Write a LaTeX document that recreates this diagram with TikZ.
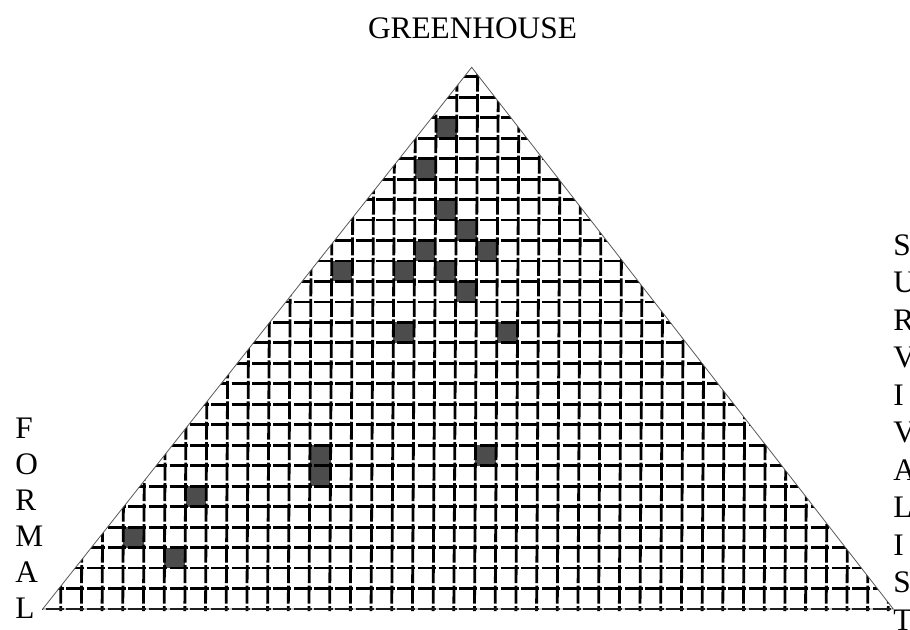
\documentclass[tikz,border=0pt]{standalone}
\usepackage{fontspec}
\setmainfont{Liberation Serif}
\begin{document}
\begin{tikzpicture}[x=0.75pt,y=-0.75pt,
  lbl/.style={inner sep=0pt, font=\fontsize{23.5}{28}\selectfont},
  hline/.style={line width=2.1pt, black, dash pattern=on 13.64pt off 1.875pt, dash phase=11.385pt},
  vline/.style={line width=2.1pt, black, dash pattern=on 13.48pt off 1.875pt, dash phase=9.73pt},
  edge/.style={line width=0.6pt, black!65},
  cellfill/.style={fill=black!70}]
\fill[white] (0,0) rectangle (910,629);
\useasboundingbox (0,0) rectangle (910,629);
\coordinate (apex) at (471.7,67.3);
\coordinate (bl) at (42.7,609);
\coordinate (br) at (893.3,609);
\newcommand{\shcell}[2]{\fill[cellfill] ({60.7+20.69*#1+0.12*(#2+0.5)},{609-20.47*(#2+1)}) rectangle ++(20.69,20.47);}
% shaded cells
\shcell{18}{23}
\shcell{17}{21}
\shcell{18}{19}
\shcell{19}{18}
\shcell{17}{17}
\shcell{20}{17}
\shcell{13}{16}
\shcell{16}{16}
\shcell{18}{16}
\shcell{19}{15}
\shcell{16}{13}
\shcell{21}{13}
\shcell{12}{7}
\shcell{12}{6}
\shcell{20}{7}
\shcell{6}{5}
\shcell{3}{3}
\shcell{5}{2}
% grid
\begin{scope}
\clip (41.1,611) -- (471.7,67.3) -- (894.9,611) -- cycle;
\foreach \k in {0,...,26} \draw[hline] (40,{609-20.47*\k}) -- (896,{609-20.47*\k});
\foreach \j in {0,...,40} \draw[vline] ({60.7+20.69*\j},611) -- ({60.7+20.69*\j+3.2},67);
\end{scope}
\draw[edge] (bl) -- (apex) -- (br) -- cycle;
% labels
\node[lbl, anchor=base] (title) at (472.5,38) {GREENHOUSE};
\node[lbl, anchor=base west] (f1) at (15,438) {F};
\node[lbl, anchor=base west] (f2) at (15,474) {O};
\node[lbl, anchor=base west] (f3) at (15,510) {R};
\node[lbl, anchor=base west] (f4) at (15,546) {M};
\node[lbl, anchor=base west] (f5) at (15,582) {A};
\node[lbl, anchor=base west] (f6) at (15,618) {L};
\node[lbl, anchor=base west] (s1) at (893,255) {S};
\node[lbl, anchor=base west] (s2) at (893,292.5) {U};
\node[lbl, anchor=base west] (s3) at (893,330) {R};
\node[lbl, anchor=base west] (s4) at (893,367.5) {V};
\node[lbl, anchor=base west] (s5) at (893,405) {I};
\node[lbl, anchor=base west] (s6) at (893,442.5) {V};
\node[lbl, anchor=base west] (s7) at (893,480) {A};
\node[lbl, anchor=base west] (s8) at (893,517.5) {L};
\node[lbl, anchor=base west] (s9) at (893,555) {I};
\node[lbl, anchor=base west] (s10) at (893,592.5) {S};
\node[lbl, anchor=base west] (s11) at (893,630) {T};
\end{tikzpicture}
\end{document}
